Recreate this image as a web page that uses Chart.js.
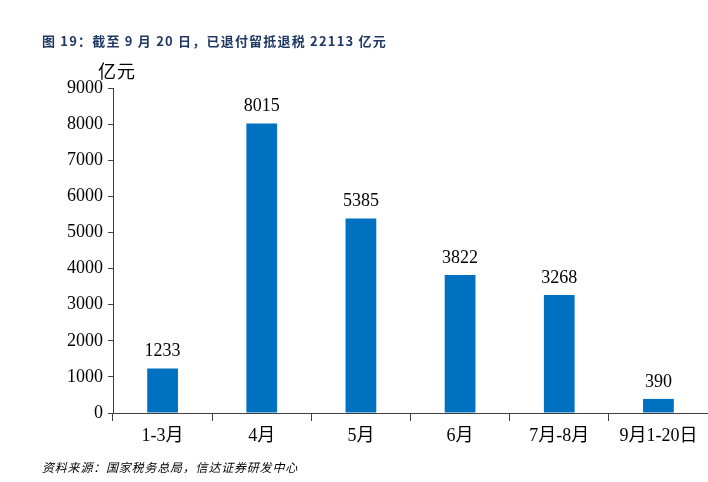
<!DOCTYPE html>
<html>
<head>
<meta charset="utf-8">
<script src="https://cdn.jsdelivr.net/npm/chart.js@4"></script>
<style>
  html, body { margin: 0; padding: 0; background: #fff; }
  #wrap { position: relative; width: 708px; height: 482px; }
  #title { position: absolute; left: 42px; top: 31px; font: bold 13px "Noto Sans CJK SC", sans-serif; letter-spacing: 1.2px; color: #1F3864; white-space: nowrap; }
  #unit { position: absolute; left: 98px; top: 57px; font: 18px "Noto Sans CJK SC", sans-serif; letter-spacing: 1px; color: #000; }
  #source { position: absolute; left: 42px; top: 458px; font: italic 12px "Noto Sans CJK SC", sans-serif; letter-spacing: 0.8px; color: #000; }
  canvas { position: absolute; left: 0; top: 0; }
</style>
</head>
<body>
<div id="wrap">
  <canvas id="barChart" width="708" height="482"></canvas>
  <div id="title">图 19：截至 9 月 20 日，已退付留抵退税 22113 亿元</div>
  <div id="unit">亿元</div>
  <div id="source">资料来源：国家税务总局，信达证券研发中心</div>
</div>
<script>
const categories = ['1-3月', '4月', '5月', '6月', '7月-8月', '9月1-20日'];
const refundValues = [1233, 8015, 5385, 3822, 3268, 390];
const yTicks = [0, 1000, 2000, 3000, 4000, 5000, 6000, 7000, 8000, 9000];

const serif = '"Liberation Serif", "Times New Roman", "Noto Sans CJK SC", serif';

// values above the bars
const valueLabels = {
    id: 'valueLabels',
    afterDatasetsDraw(chart) {
        const ctx = chart.ctx;
        const meta = chart.getDatasetMeta(0);
        ctx.save();
        ctx.font = '18px ' + serif;
        ctx.fillStyle = '#000';
        ctx.textAlign = 'center';
        ctx.textBaseline = 'bottom';
        meta.data.forEach((bar, i) => {
            ctx.fillText(String(refundValues[i]), bar.x, bar.y - 8);
        });
        ctx.restore();
    }
};

new Chart(document.getElementById('barChart'), {
    type: 'bar',
    data: {
        labels: categories,
        datasets: [{
            data: refundValues,
            backgroundColor: '#0070C0',
            borderWidth: 0,
            barPercentage: 0.31,
            categoryPercentage: 1.0,
        }]
    },
    options: {
        responsive: false,
        animation: false,
        layout: { padding: { top: 88, right: 0, bottom: 0, left: 0 } },
        plugins: { legend: { display: false }, tooltip: { enabled: false } },
        scales: {
            x: {
                grid: { drawOnChartArea: false, drawTicks: true, tickLength: 8, color: '#404040', offset: true },
                border: { color: '#404040', width: 1 },
                ticks: { color: '#000', font: { size: 18, family: serif }, padding: 4, maxRotation: 0, autoSkip: false },
                afterFit: s => { s.height = 69; }
            },
            y: {
                min: 0, max: 9000,
                afterBuildTicks: s => { s.ticks = yTicks.map(v => ({ value: v })); },
                grid: { drawOnChartArea: false, drawTicks: true, tickLength: 5, color: '#404040' },
                border: { color: '#404040', width: 1 },
                ticks: { color: '#000', font: { size: 18, family: serif }, padding: 5, callback: v => String(v) },
                afterFit: s => { s.width = 113; }
            }
        }
    },
    plugins: [valueLabels]
});
</script>
</body>
</html>
